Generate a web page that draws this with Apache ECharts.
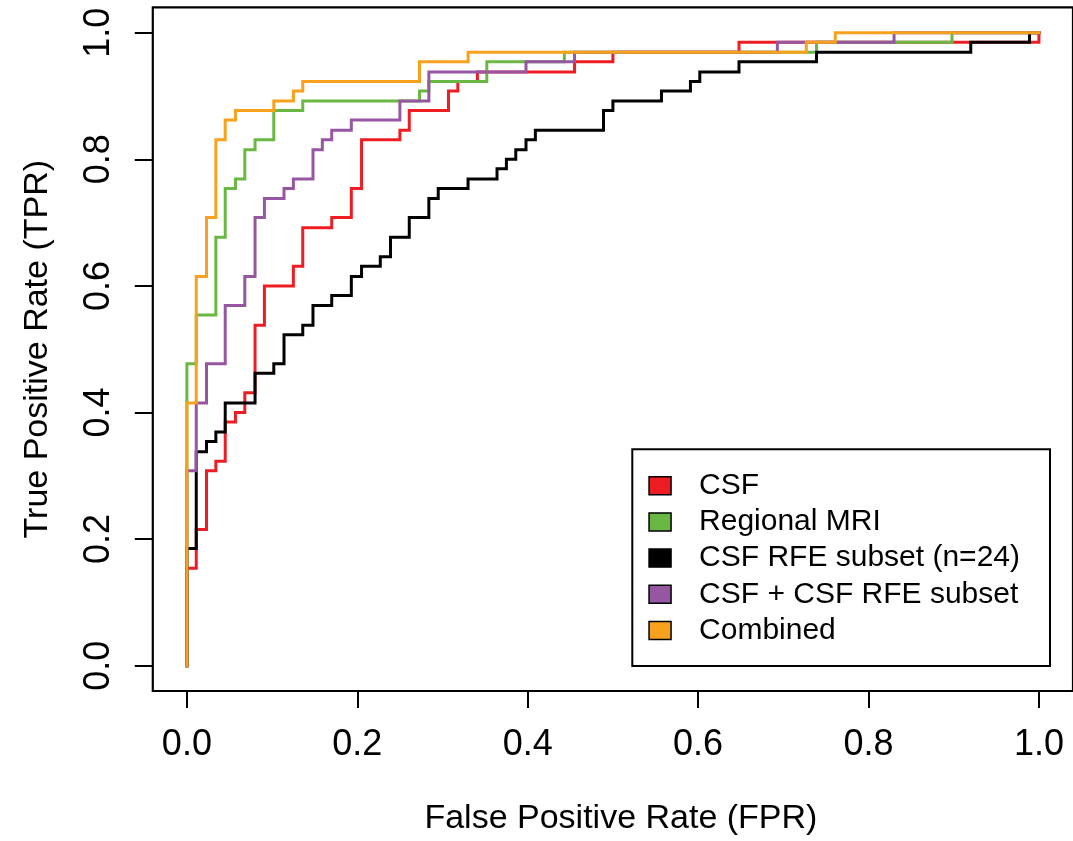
<!DOCTYPE html>
<html>
<head>
<meta charset="utf-8">
<script src="https://cdn.jsdelivr.net/npm/echarts@6/dist/echarts.min.js"></script>
<style>
html,body{margin:0;padding:0;background:#fff;}
#chart{width:1073px;height:841px;}
</style>
</head>
<body>
<div id="chart"></div>
<script>
// Tick positions and labels
const tickValues = [0, 0.2, 0.4, 0.6, 0.8, 1.0];
const tickLabels = ['0.0', '0.2', '0.4', '0.6', '0.8', '1.0'];

// Series names
const seriesNames = ['CSF', 'Regional MRI', 'CSF RFE subset (n=24)', 'CSF + CSF RFE subset', 'Combined'];

// ROC staircase corners (FPR, TPR)
const csfFPR = [0,0,0.011,0.011,0.023,0.023,0.034,0.034,0.045,0.045,0.057,0.057,0.068,0.068,0.080,0.080,0.091,0.091,0.125,0.125,0.136,0.136,0.170,0.170,0.193,0.193,0.205,0.205,0.250,0.250,0.261,0.261,0.307,0.307,0.318,0.318,0.341,0.341,0.455,0.455,0.500,0.500,0.648,0.648,1.000,1.000];
const csfTPR = [0,0.154,0.154,0.215,0.215,0.308,0.308,0.323,0.323,0.385,0.385,0.400,0.400,0.431,0.431,0.538,0.538,0.600,0.600,0.631,0.631,0.692,0.692,0.708,0.708,0.754,0.754,0.831,0.831,0.846,0.846,0.877,0.877,0.908,0.908,0.923,0.923,0.938,0.938,0.954,0.954,0.969,0.969,0.985,0.985,1.000];

const mriFPR = [0,0,0.011,0.011,0.034,0.034,0.045,0.045,0.057,0.057,0.068,0.068,0.080,0.080,0.102,0.102,0.136,0.136,0.273,0.273,0.284,0.284,0.352,0.352,0.443,0.443,0.739,0.739,0.898,0.898,1.000];
const mriTPR = [0,0.477,0.477,0.554,0.554,0.677,0.677,0.754,0.754,0.769,0.769,0.815,0.815,0.831,0.831,0.877,0.877,0.892,0.892,0.908,0.908,0.923,0.923,0.954,0.954,0.969,0.969,0.985,0.985,1.000,1.000];

const rfeFPR = [0,0,0.011,0.011,0.023,0.023,0.034,0.034,0.045,0.045,0.080,0.080,0.102,0.102,0.114,0.114,0.136,0.136,0.148,0.148,0.170,0.170,0.193,0.193,0.205,0.205,0.227,0.227,0.239,0.239,0.261,0.261,0.284,0.284,0.295,0.295,0.330,0.330,0.364,0.364,0.375,0.375,0.386,0.386,0.398,0.398,0.409,0.409,0.489,0.489,0.500,0.500,0.557,0.557,0.591,0.591,0.602,0.602,0.648,0.648,0.739,0.739,0.920,0.920,0.989,0.989,1.000];
const rfeTPR = [0,0.185,0.185,0.338,0.338,0.354,0.354,0.369,0.369,0.415,0.415,0.462,0.462,0.477,0.477,0.523,0.523,0.538,0.538,0.569,0.569,0.585,0.585,0.615,0.615,0.631,0.631,0.646,0.646,0.677,0.677,0.708,0.708,0.738,0.738,0.754,0.754,0.769,0.769,0.785,0.785,0.800,0.800,0.815,0.815,0.831,0.831,0.846,0.846,0.877,0.877,0.892,0.892,0.908,0.908,0.923,0.923,0.938,0.938,0.954,0.954,0.969,0.969,0.985,0.985,1.000,1.000];

const csfRfeFPR = [0,0,0.011,0.011,0.023,0.023,0.045,0.045,0.068,0.068,0.080,0.080,0.091,0.091,0.114,0.114,0.125,0.125,0.148,0.148,0.159,0.159,0.170,0.170,0.193,0.193,0.250,0.250,0.284,0.284,0.398,0.398,0.455,0.455,0.693,0.693,0.830,0.830,1.000];
const csfRfeTPR = [0,0.308,0.308,0.415,0.415,0.477,0.477,0.569,0.569,0.615,0.615,0.708,0.708,0.738,0.738,0.754,0.754,0.769,0.769,0.815,0.815,0.831,0.831,0.846,0.846,0.862,0.862,0.892,0.892,0.938,0.938,0.954,0.954,0.969,0.969,0.985,0.985,1.000,1.000];

const combFPR = [0,0,0.011,0.011,0.023,0.023,0.034,0.034,0.045,0.045,0.057,0.057,0.102,0.102,0.125,0.125,0.136,0.136,0.273,0.273,0.330,0.330,0.727,0.727,0.761,0.761,1.000];
const combTPR = [0,0.415,0.415,0.615,0.615,0.708,0.708,0.831,0.831,0.862,0.862,0.877,0.877,0.892,0.892,0.908,0.908,0.923,0.923,0.954,0.954,0.969,0.969,0.985,0.985,1.000,1.000];

const colors = ['#EE1D24', '#69B843', '#000000', '#9656A2', '#F8A11C'];

const zip = (xs, ys) => xs.map((x, i) => [x, ys[i]]);
const allData = [zip(csfFPR, csfTPR), zip(mriFPR, mriTPR), zip(rfeFPR, rfeTPR), zip(csfRfeFPR, csfRfeTPR), zip(combFPR, combTPR)];

const FONT = "'Liberation Sans', Arial, sans-serif";

const chart = echarts.init(document.getElementById('chart'), null, {renderer: 'canvas'});
const fmt = v => tickLabels[tickValues.findIndex(t => Math.abs(t - v) < 1e-9)] || '';

const option = {
  animation: false,
  backgroundColor: '#fff',
  grid: {
    left: 152.8, top: 7.4, width: 923.9, height: 692.2,
    show: true, borderColor: '#000', borderWidth: 2.2, backgroundColor: 'transparent',
    containLabel: false
  },
  xAxis: {
    type: 'value', min: -0.04, max: 1.04,
    axisLine: {show: false, onZero: false},
    splitLine: {show: false},
    axisTick: {show: true, inside: false, length: 17, customValues: tickValues, lineStyle: {color: '#000', width: 2}},
    axisLabel: {show: true, customValues: tickValues, formatter: fmt, margin: 36, fontSize: 36, color: '#000', fontFamily: FONT},
    name: 'False Positive Rate (FPR)', nameLocation: 'middle', nameGap: 111,
    nameTextStyle: {fontSize: 34, color: '#000', fontFamily: FONT, padding: [0, 0, 0, 16]}
  },
  yAxis: {
    type: 'value', min: -0.04, max: 1.04,
    axisLine: {show: false, onZero: false},
    splitLine: {show: false},
    axisTick: {show: true, inside: false, length: 18, customValues: tickValues, lineStyle: {color: '#000', width: 2}},
    axisLabel: {show: true, customValues: tickValues, formatter: fmt, margin: 36, rotate: 90, fontSize: 36, color: '#000', fontFamily: FONT},
    name: 'True Positive Rate (TPR)', nameLocation: 'middle', nameGap: 98,
    nameTextStyle: {fontSize: 34, color: '#000', fontFamily: FONT, padding: [0, 0, 0, 0]}
  },
  legend: {
    show: true, orient: 'vertical', left: 632.3, top: 449.3,
    data: seriesNames,
    icon: 'rect', itemWidth: 22, itemHeight: 18, itemGap: 0,
    itemStyle: {borderColor: '#000', borderWidth: 1.5},
    borderColor: '#000', borderWidth: 2, backgroundColor: '#fff',
    padding: [18.3, 30, 17.4, 16],
    textStyle: {fontSize: 30, color: '#000', fontFamily: FONT, lineHeight: 36.2, padding: [0, 0, 0, 23]},
    selectedMode: false
  },
  series: seriesNames.map((name, i) => ({
    name: name, type: 'line', data: allData[i],
    color: colors[i],
    showSymbol: false, symbol: 'none', smooth: false,
    lineStyle: {color: colors[i], width: 3, cap: 'square', join: 'miter'},
    itemStyle: {color: colors[i]},
    emphasis: {disabled: true}, silent: true, z: 2 + i
  }))
};
chart.setOption(option);
</script>
</body>
</html>
